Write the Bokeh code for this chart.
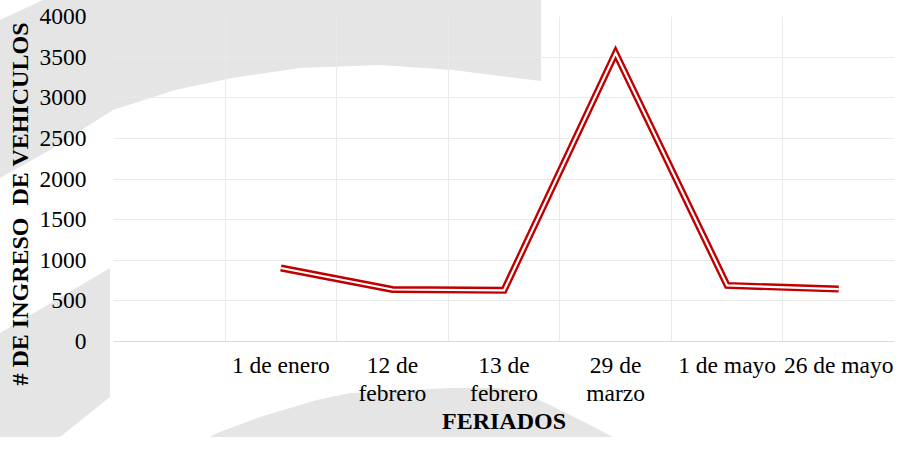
from bokeh.plotting import figure
from bokeh.models import Range1d, FixedTicker, SingleIntervalTicker, ColumnDataSource, Title
from bokeh.embed import file_html
from bokeh.resources import INLINE
from urllib.parse import quote
import math

# ---- data ----
categories = ["", "1 de enero", "12 de\nfebrero", "13 de\nfebrero", "29 de\nmarzo", "1 de mayo", "26 de mayo"]
values = [math.nan, 905, 640, 630, 3550, 690, 645]
y_ticks_step = 500
y_max = 4000
x_title = "FERIADOS"
y_title = "# DE INGRESO\u00a0 DE VEHICULOS"

# ---- decorative grey watermark shapes behind the chart (pixel positions) ----
wm_top = [(0, 20), (43, 0), (541, 0), (541, 81), (453, 70), (380, 65), (300, 68), (232, 78),
          (175, 90), (113, 110), (50, 150), (0, 178)]
wm_left = [(0, 333), (110, 268), (110, 397), (40, 453), (0, 453)]
wm_bottom = [(180, 453), (217, 433), (260, 417), (317, 400), (350, 393), (450, 388), (500, 388),
             (520, 392), (550, 405), (590, 425), (643, 453)]

FONT = "Liberation Serif"
W, H = 895, 437

svg = f'<svg xmlns="http://www.w3.org/2000/svg" width="{W}" height="{H}">'
for shape in (wm_top, wm_left, wm_bottom):
    pts = " ".join(f"{x},{y}" for x, y in shape)
    svg += f'<polygon points="{pts}" fill="#e5e5e5"/>'
svg += "</svg>"
bg = "url(\"data:image/svg+xml," + quote(svg) + "\")"

p = figure(width=W, height=H, output_backend="svg", toolbar_location=None,
           x_range=Range1d(0, len(categories)), y_range=Range1d(0, y_max),
           min_border_left=113, min_border_right=1, min_border_top=16, min_border_bottom=91)
p.outline_line_color = None
p.background_fill_color = None
p.border_fill_color = None
p.styles = {"background-color": "white", "background-image": bg,
            "background-repeat": "no-repeat", "background-position": "0 0"}

# grids at category boundaries
p.xgrid.ticker = FixedTicker(ticks=list(range(len(categories) + 1)))
p.xgrid.grid_line_color = "#eaeaea"
p.ygrid.ticker = SingleIntervalTicker(interval=y_ticks_step)
p.ygrid.grid_line_color = "#eaeaea"

# x axis
centers = [i + 0.5 for i in range(len(categories))]
p.xaxis.ticker = FixedTicker(ticks=centers)
p.xaxis.major_label_overrides = {c: lab for c, lab in zip(centers, categories)}
p.xaxis.axis_line_color = "#d9d9d9"
p.xaxis.major_tick_line_color = None
p.xaxis.minor_tick_line_color = None
p.xaxis.major_label_text_font = FONT
p.xaxis.major_label_text_font_size = "23.5px"
p.xaxis.major_label_text_line_height = 1.1
p.xaxis.major_label_text_color = "black"
p.xaxis.major_label_standoff = 4
p.xaxis.axis_label = x_title
p.xaxis.axis_label_text_font = FONT
p.xaxis.axis_label_text_font_style = "bold"
p.xaxis.axis_label_text_font_size = "24px"
p.xaxis.axis_label_text_color = "black"
p.xaxis.axis_label_standoff = -1

# y axis
p.yaxis.ticker = SingleIntervalTicker(interval=y_ticks_step)
p.yaxis.axis_line_color = None
p.yaxis.major_tick_line_color = None
p.yaxis.minor_tick_line_color = None
p.yaxis.major_label_text_font = FONT
p.yaxis.major_label_text_font_size = "23.5px"
p.yaxis.major_label_text_color = "black"
p.yaxis.major_label_standoff = 21

p.add_layout(Title(text=y_title, align="left", offset=-44, standoff=8,
                   text_font=FONT, text_font_style="bold", text_font_size="24px",
                   text_color="black"), "left")

src = ColumnDataSource(dict(x=centers, y=values))
p.line("x", "y", source=src, line_color="#c00000", line_width=7, line_join="miter")
p.line("x", "y", source=src, line_color="white", line_width=2.2, line_join="miter")

open("out.html", "w").write(file_html(p, INLINE))
